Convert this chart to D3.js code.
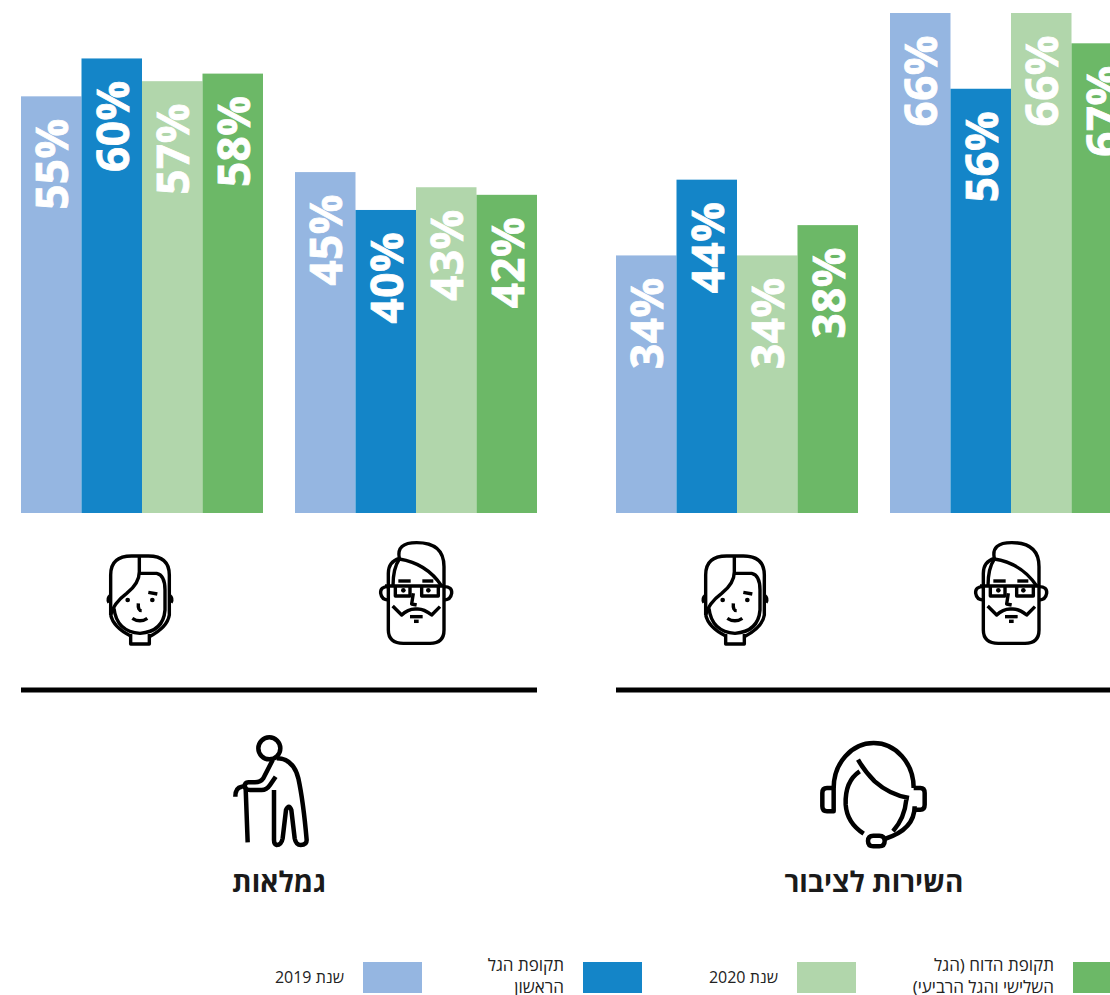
<!DOCTYPE html>
<html lang="he">
<head>
<meta charset="utf-8">
<title>chart</title>
<script src="https://cdn.jsdelivr.net/npm/d3@7"></script>
<style>
  html, body { margin: 0; padding: 0; background: #fff; overflow: hidden; }
  svg { display: block; }
  text { font-family: "Open Sans", "Noto Sans", sans-serif; }
</style>
</head>
<body>
<div id="diagram"></div>
<script>
!(function () {
  'use strict'
  // - - - - - - - - - -
  // data
  const sections = ['גמלאות', 'השירות לציבור'];
  const genders = ['women', 'men'];
  const series = ['2019', 'wave1', '2020', 'report'];
  const seriesNames = [
    ['שנת 2019'],
    ['תקופת הגל', 'הראשון'],
    ['שנת 2020'],
    ['תקופת הדוח (הגל', 'השלישי והגל הרביעי)']
  ];
  const seriesColors = ['#95b6e1', '#1485c8', '#b1d6ab', '#6cb867'];

  // bar heights, section by section, women then men
  const pensionsWomen = [55, 60, 57, 58];
  const pensionsMen = [45, 40, 43, 42];
  const publicWomen = [34, 44, 34, 38];
  const publicMen = [66, 56, 66, 62];   // last bar is drawn at about 62 in the picture

  // printed labels (the last one reads 67% although the bar is shorter)
  const pensionsWomenLabels = ['55%', '60%', '57%', '58%'];
  const pensionsMenLabels = ['45%', '40%', '43%', '42%'];
  const publicWomenLabels = ['34%', '44%', '34%', '38%'];
  const publicMenLabels = ['66%', '56%', '66%', '67%'];

  const values = [[pensionsWomen, pensionsMen], [publicWomen, publicMen]];
  const labels = [[pensionsWomenLabels, pensionsMenLabels], [publicWomenLabels, publicMenLabels]];

  // canvas
  const width = 1110, height = 995;
  const baseY = 513;

  const svg = d3.select('#diagram').append('svg')
    .attr('width', width)
    .attr('height', height)
    .attr('viewBox', '0 0 ' + width + ' ' + height);

  // scales, the right section runs past the edge of the page as in the picture
  const sectionScale = d3.scaleBand().domain(sections).range([21, 1132]).paddingInner(79 / 595);
  const genderScale = d3.scaleBand().domain(genders).range([0, sectionScale.bandwidth()]).paddingInner(32 / 274);
  const seriesScale = d3.scaleBand().domain(series).range([0, genderScale.bandwidth()]);
  const yScale = d3.scaleLinear().domain([0, 66]).range([baseY, 13]);
  const colorScale = d3.scaleOrdinal().domain(series).range(seriesColors);

  // icons are drawn in 3x units, centred on their own point
  const icons = {
    man: {
      cx: 168, cy: 195,
      paths: [
        'M85,300 L85,130 Q85,95 118,85 Q108,38 170,38 Q252,38 252,110 L252,300 Q252,340 210,340 L130,340 Q85,340 85,300 Z',
        'M118,87 Q200,100 245,168',
        'M99,168 Q99,115 118,87',
        'M75,168 L250,168',
        'M106,168 L106,198 L150,198 L150,168',
        'M185,168 L185,198 L235,198 L235,168',
        'M115,153 L152,153', 'M187,153 L220,153',
        'M160,190 L155,222 L170,225',
        'M98,228 L125,255 Q145,235 170,237 Q190,235 215,255 L240,230',
        'M150,260 L188,260', 'M162,274 L176,274',
        'M85,170 Q60,170 62,190 Q65,210 85,210',
        'M252,170 Q277,170 275,190 Q272,210 252,210'
      ],
      dots: [[130, 181], [205, 181]]
    },
    woman: {
      cx: 150, cy: 165,
      paths: [
        'M62,225 L62,105 Q62,48 125,48 L175,48 Q238,48 238,105 L238,225 Q232,262 178,290',
        'M62,225 Q70,262 122,288',
        'M122,282 L122,312 L178,312 L178,282',
        'M148,48 L148,95 Q148,130 110,160 Q70,190 62,225',
        'M148,100 L200,100 Q225,105 225,150 L225,210 Q220,275 150,280 Q80,275 72,205',
        'M175,157 L202,162',
        'M145,190 Q143,212 155,212',
        'M127,235 Q150,250 172,235',
        'M62,165 Q50,175 57,188', 'M238,165 Q250,175 243,188'
      ],
      dots: [[113, 180], [187, 180]]
    },
    elder: {
      cx: 180, cy: 195,
      paths: [
        'M200,100 Q250,100 265,160 Q280,230 290,345 Q290,360 272,360 Q258,360 254,340 L244,255 Q237,235 228,255 L218,340 Q214,360 200,360 Q192,358 192,345 L192,195',
        'M188,105 L160,160 Q152,172 135,172 L115,172 Q104,172 104,185 Q106,195 120,195 L155,195 Q170,195 180,180 L197,155',
        'M113,352 L107,190 Q105,183 95,185 Q76,188 76,215'
      ],
      circles: [[178, 70, 33]]
    },
    headset: {
      cx: 190, cy: 190,
      paths: [
        'M72,175 A120,135 0 0 1 312,175',
        'M72,175 L52,175 Q38,175 38,190 L38,230 Q38,245 52,245 L72,245 Z',
        'M312,175 L332,175 Q345,175 345,190 L345,225 Q345,240 332,240 L316,240',
        'M145,90 Q165,125 195,155 Q240,195 298,205',
        'M150,125 Q105,155 108,225 Q112,280 162,312',
        'M290,210 Q285,265 250,305',
        'M315,230 Q315,300 225,328',
        'M191,318 L209,318 Q225,318 225,334 Q225,350 209,350 L191,350 Q175,350 175,334 Q175,318 191,318 Z'
      ]
    }
  };

  const drawIcon = function (name, x, y, strokeWidth) {
    const icon = icons[name];
    const g = svg.append('g')
      .attr('transform', 'translate(' + x + ',' + y + ') scale(' + (1 / 3) + ') translate(' + (-icon.cx) + ',' + (-icon.cy) + ')')
      .attr('fill', 'none')
      .attr('stroke', '#000')
      .attr('stroke-width', strokeWidth * 3)
      .attr('stroke-linejoin', 'round');
    g.selectAll('path').data(icon.paths).enter().append('path').attr('d', function (d) { return d; });
    g.selectAll('circle.head').data(icon.circles || []).enter().append('circle')
      .attr('class', 'head')
      .attr('cx', function (d) { return d[0]; })
      .attr('cy', function (d) { return d[1]; })
      .attr('r', function (d) { return d[2]; });
    g.selectAll('circle.eye').data(icon.dots || []).enter().append('circle')
      .attr('class', 'eye')
      .attr('cx', function (d) { return d[0]; })
      .attr('cy', function (d) { return d[1]; })
      .attr('r', 7)
      .attr('fill', '#000')
      .attr('stroke', 'none');
  };

  // bars and labels
  sections.forEach(function (section, s) {
    const sectionX = sectionScale(section);

    genders.forEach(function (gender, g) {
      const groupX = sectionX + genderScale(gender);
      const rows = series.map(function (key, i) {
        return { key: key, value: values[s][g][i], label: labels[s][g][i] };
      });

      const group = svg.append('g').attr('transform', 'translate(' + groupX + ',0)');

      group.selectAll('rect').data(rows).enter().append('rect')
        .attr('x', function (d) { return seriesScale(d.key); })
        .attr('y', function (d) { return yScale(d.value); })
        .attr('width', seriesScale.bandwidth())
        .attr('height', function (d) { return baseY - yScale(d.value); })
        .attr('fill', function (d) { return colorScale(d.key); });

      group.selectAll('text').data(rows).enter().append('text')
        .attr('transform', function (d) {
          return 'translate(' + (seriesScale(d.key) + seriesScale.bandwidth() / 2 + 1) + ',' + (yScale(d.value) + 22) + ') rotate(-90)';
        })
        .attr('dy', '0.36em')
        .attr('text-anchor', 'end')
        .attr('direction', 'ltr')
        .attr('fill', '#fff')
        .attr('font-size', 44)
        .attr('font-weight', 700)
        .attr('letter-spacing', 0.5)
        .attr('stroke', '#fff')
        .attr('stroke-width', 0.8)
        .text(function (d) { return d.label; });

      drawIcon(gender === 'men' ? 'man' : 'woman', groupX + genderScale.bandwidth() / 2 - (gender === 'women' ? 2 : 0), 595, 3.4);
    });

    // rule under the faces
    svg.append('line')
      .attr('x1', sectionX)
      .attr('x2', sectionX + sectionScale.bandwidth())
      .attr('y1', 690)
      .attr('y2', 690)
      .attr('stroke', '#000')
      .attr('stroke-width', 5);

    // section title
    svg.append('text')
      .attr('x', sectionX + sectionScale.bandwidth() / 2)
      .attr('y', 892)
      .attr('text-anchor', 'middle')
      .attr('direction', 'rtl')
      .attr('font-size', 28)
      .attr('font-weight', 700)
      .attr('fill', '#1a1a1a')
      .text(section);
  });

  drawIcon('elder', 270, 790, 4.5);
  drawIcon('headset', 873, 793, 4.5);

  // legend
  const legendScale = d3.scaleOrdinal().domain(series).range([363, 583, 797, 1073]);
  const legend = svg.selectAll('g.legend').data(series).enter().append('g')
    .attr('class', 'legend')
    .attr('transform', function (d) { return 'translate(' + legendScale(d) + ',962)'; });

  legend.append('rect')
    .attr('width', 59)
    .attr('height', 31)
    .attr('fill', function (d) { return colorScale(d); });

  legend.each(function (d, i) {
    const lines = seriesNames[i];
    const startY = lines.length === 1 ? 21 : 9;
    d3.select(this).selectAll('text').data(lines).enter().append('text')
      .attr('x', -19)
      .attr('y', function (t, j) { return startY + j * 22; })
      .attr('direction', 'rtl')
      .attr('text-anchor', 'start')
      .attr('font-size', lines.length === 1 ? 16 : 17)
      .attr('fill', '#222')
      .text(function (t) { return t; });
  });
  // - - - - - - - - - -
}())
</script>
</body>
</html>
